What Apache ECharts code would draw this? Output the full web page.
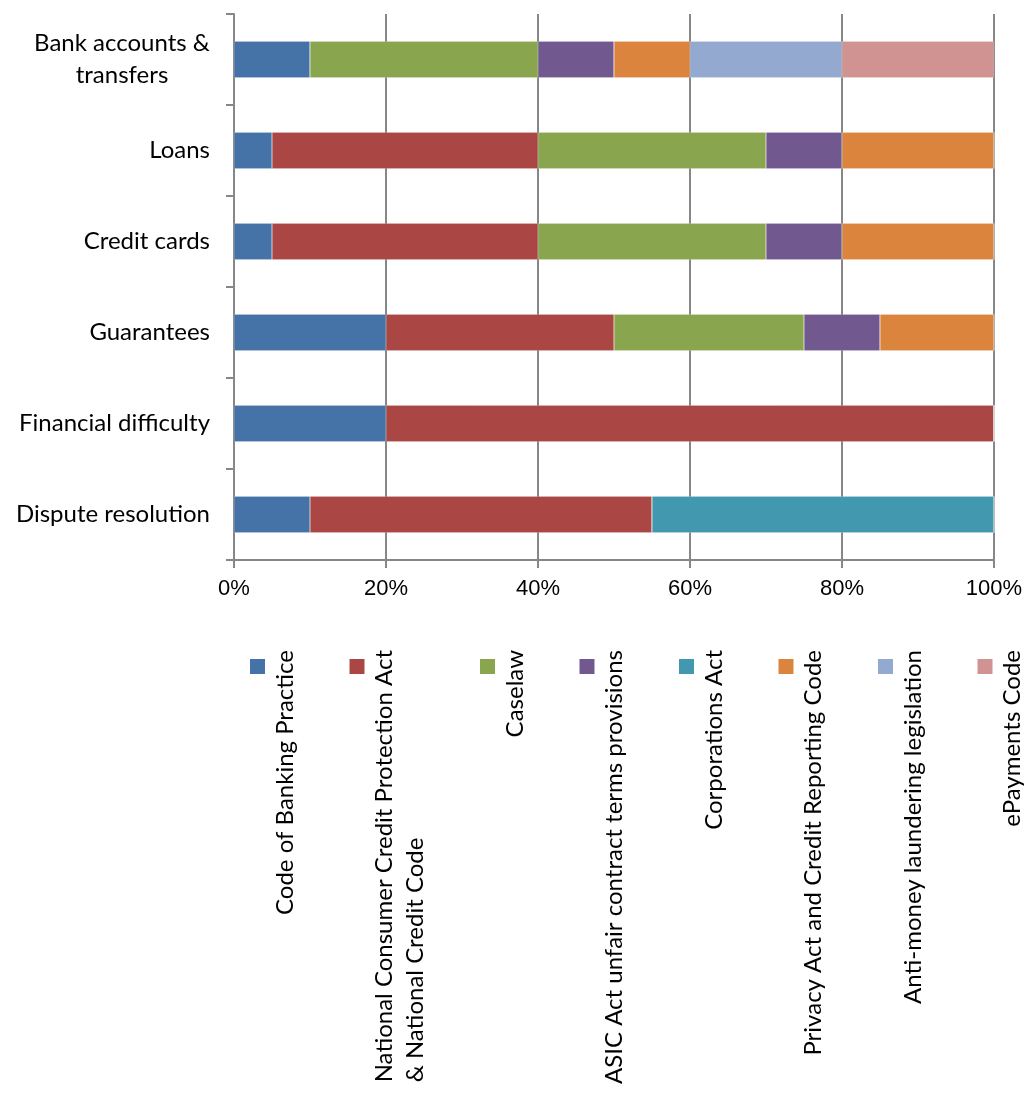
<!DOCTYPE html>
<html>
<head>
<meta charset="utf-8">
<script src="https://cdn.jsdelivr.net/npm/echarts@6/dist/echarts.min.js"></script>
<style>
  html, body { margin: 0; padding: 0; background: #ffffff; }
  #chart { width: 1030px; height: 1100px; }
</style>
</head>
<body>
<div id="chart"></div>
<script>
// Product areas, listed top to bottom
const categories = [
  'Bank accounts &\ntransfers',
  'Loans',
  'Credit cards',
  'Guarantees',
  'Financial difficulty',
  'Dispute resolution'
];

// Share (%) of each source of obligations per product area
const codeOfBankingPractice = [10, 5, 5, 20, 20, 10];
const nccpAndCreditCode     = [0, 35, 35, 30, 80, 45];
const caselaw               = [30, 30, 30, 25, 0, 0];
const asicUnfairTerms       = [10, 10, 10, 10, 0, 0];
const corporationsAct       = [0, 0, 0, 0, 0, 45];
const privacyAndCreditCode  = [10, 20, 20, 15, 0, 0];
const antiMoneyLaundering   = [20, 0, 0, 0, 0, 0];
const ePaymentsCode         = [20, 0, 0, 0, 0, 0];

const seriesNames = [
  'Code of Banking Practice',
  'National Consumer Credit Protection Act\n& National Credit Code',
  'Caselaw',
  'ASIC Act unfair contract terms provisions',
  'Corporations Act',
  'Privacy Act and Credit Reporting Code',
  'Anti-money laundering legislation',
  'ePayments Code'
];
const seriesValues = [
  codeOfBankingPractice, nccpAndCreditCode, caselaw, asicUnfairTerms,
  corporationsAct, privacyAndCreditCode, antiMoneyLaundering, ePaymentsCode
];
const seriesColors = [
  '#4572A7', '#AA4643', '#89A54E', '#71588F',
  '#4198AF', '#DB843D', '#93A9CF', '#D19392'
];

const xTicks = [0, 20, 40, 60, 80, 100];

const LABEL_FONT = 'Lato, "Noto Sans", sans-serif';
const LABEL_SIZE = 24;
const GRID_COLOR = '#878787';

// text width helper for aligning wrapped labels
const measureCtx = document.createElement('canvas').getContext('2d');
function textWidth(str, size) {
  measureCtx.font = size + 'px ' + LABEL_FONT;
  return measureCtx.measureText(str).width;
}

const chart = echarts.init(document.getElementById('chart'), null, { renderer: 'canvas' });

// category labels: wrapped lines are centred on each other, blocks right-aligned
const firstLineWidth = Math.ceil(textWidth(categories[0].split('\n')[0], LABEL_SIZE));
function catFormatter(value) {
  const lines = value.split('\n');
  if (lines.length === 1) return value;
  return lines.map(l => '{c|' + l + '}').join('\n');
}

const series = seriesNames.map((name, i) => ({
  name: name,
  type: 'bar',
  stack: 'total',
  barWidth: '40%',
  itemStyle: { color: seriesColors[i], borderColor: 'rgba(255,255,255,0.35)', borderWidth: 0.5 },
  emphasis: { disabled: true },
  data: seriesValues[i]
}));

// legend: rotated entries laid out in a row beneath the plot
const legendGraphics = [];
const legendTop = 650;
const markerTop = 659;
const markerSize = 15;
const itemStep = 99.5;
const lineStep = 31;
let lx = 250;
seriesNames.forEach((name, i) => {
  const lines = name.split('\n');
  legendGraphics.push({
    type: 'rect',
    shape: { x: lx, y: markerTop, width: markerSize, height: markerSize },
    style: { fill: seriesColors[i] }
  });
  const w0 = textWidth(lines[0], LABEL_SIZE);
  lines.forEach((line, k) => {
    legendGraphics.push({
      type: 'text',
      x: lx + markerSize + 8 + k * lineStep,
      y: k === 0 ? legendTop : legendTop + w0,
      rotation: Math.PI / 2,
      style: {
        text: line,
        font: LABEL_SIZE + 'px ' + LABEL_FONT,
        fill: '#000000',
        align: k === 0 ? 'right' : 'left',
        verticalAlign: 'top'
      }
    });
  });
  lx += itemStep + (lines.length - 1) * lineStep;
});

const option = {
  backgroundColor: '#ffffff',
  animation: false,
  grid: { left: 234, right: 36, top: 14, bottom: 540, containLabel: false },
  xAxis: {
    type: 'value',
    min: xTicks[0],
    max: xTicks[xTicks.length - 1],
    interval: xTicks[1] - xTicks[0],
    axisLine: { show: true, lineStyle: { color: GRID_COLOR, width: 2 } },
    axisTick: { show: true, length: 8, lineStyle: { color: GRID_COLOR, width: 2 } },
    splitLine: { show: true, lineStyle: { color: GRID_COLOR, width: 2 } },
    axisLabel: {
      formatter: '{value}%',
      color: '#000000',
      fontFamily: '"Liberation Sans", Arial, sans-serif',
      fontSize: 22,
      margin: 18
    }
  },
  yAxis: {
    type: 'category',
    inverse: true,
    data: categories,
    axisLine: { show: true, lineStyle: { color: GRID_COLOR, width: 2 } },
    axisTick: { show: true, length: 8, lineStyle: { color: GRID_COLOR, width: 2 } },
    splitLine: { show: false },
    axisLabel: {
      color: '#000000',
      fontFamily: LABEL_FONT,
      fontSize: LABEL_SIZE,
      lineHeight: 32,
      margin: 24,
      align: 'right',
      formatter: catFormatter,
      rich: {
        c: {
          width: firstLineWidth,
          align: 'center',
          fontFamily: LABEL_FONT,
          fontSize: LABEL_SIZE,
          lineHeight: 32,
          color: '#000000'
        }
      }
    }
  },
  series: series,
  graphic: legendGraphics
};

chart.setOption(option);
</script>
</body>
</html>
